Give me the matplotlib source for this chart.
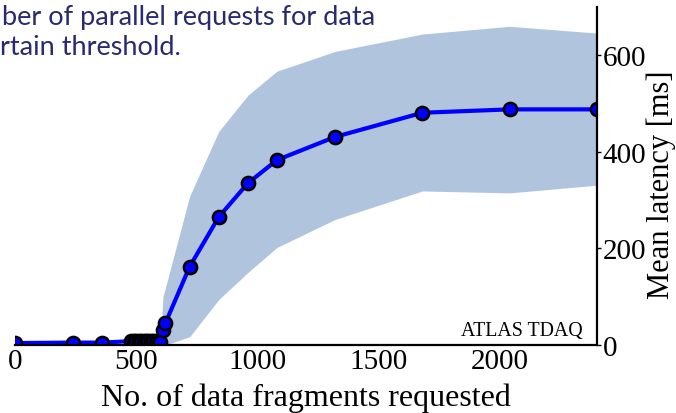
import matplotlib
matplotlib.use("Agg")
import matplotlib.pyplot as plt
import numpy as np

# Data
x_vals = [0, 240, 360, 480, 490, 500, 510, 520, 530, 540, 550, 560, 570, 580, 590, 600, 610, 620,
          720, 840, 960, 1080, 1320, 1680, 2040, 2400]
y_vals = [4, 5, 5, 8, 8, 8, 8, 8, 8, 8, 8, 8, 8, 8, 8, 7, 32, 45,
          162, 265, 335, 383, 431, 481, 488, 488]

band_x = [600, 610, 620, 720, 840, 960, 1080, 1320, 1680, 2040, 2400]
band_low = [0, 0, 0, 17, 94, 150, 202, 260, 319, 315, 331]
band_high = [5, 100, 118, 308, 442, 517, 567, 608, 644, 660, 646]

xticks = [0, 500, 1000, 1500, 2000]
yticks = [0, 200, 400, 600]

plt.rcParams['font.family'] = ['Liberation Serif', 'DejaVu Serif']

fig = plt.figure(figsize=(6.76, 4.14), dpi=100)
W, H = 676, 414
ax = fig.add_axes([15 / W, 1 - 346 / H, (597 - 15) / W, (346 - 8) / H])

ax.fill_between(band_x, band_low, band_high, color='#b0c4de', linewidth=0, zorder=1)
ax.plot(x_vals, y_vals, '-o', color='#0000ff', lw=3, markersize=9.5,
        markerfacecolor='#0000ff', markeredgecolor='black', markeredgewidth=1.8,
        zorder=3)

ax.set_xlim(0, 2400)
ax.set_ylim(0, 700)
ax.set_xticks(xticks)
ax.set_yticks(yticks)
ax.spines['left'].set_visible(False)
ax.spines['top'].set_visible(False)
ax.spines['right'].set_linewidth(1.6)
ax.spines['bottom'].set_linewidth(1.6)
ax.spines['right'].set_zorder(4)
ax.spines['bottom'].set_zorder(4)
ax.yaxis.tick_right()
ax.tick_params(axis='both', labelsize=21, length=3, width=1, direction='out', pad=1)
ax.tick_params(axis='x', length=0, pad=2)
ax.set_xlabel('No. of data fragments requested', fontsize=23, labelpad=6)
ax.patch.set_alpha(0)

fig.text(661 / W, 1 - 185 / H, 'Mean latency [ms]', rotation=90, ha='center', va='center',
         fontsize=22)

ax.text((583 - 15) / 582, (346 - 336) / 338, 'ATLAS TDAQ', transform=ax.transAxes,
        ha='right', va='baseline', fontsize=14.3)

# Slide text (cropped in the reference)
fig.text(2 / W, 1 - 25 / H, 'ber of parallel requests for data', ha='left', va='baseline',
         fontsize=19.5, color='#2a2a70', family=['Lato', 'DejaVu Sans'])
fig.text(0 / W, 1 - 55 / H, 'rtain threshold.', ha='left', va='baseline',
         fontsize=19.5, color='#2a2a70', family=['Lato', 'DejaVu Sans'])

fig.savefig('out.png', dpi=100)
